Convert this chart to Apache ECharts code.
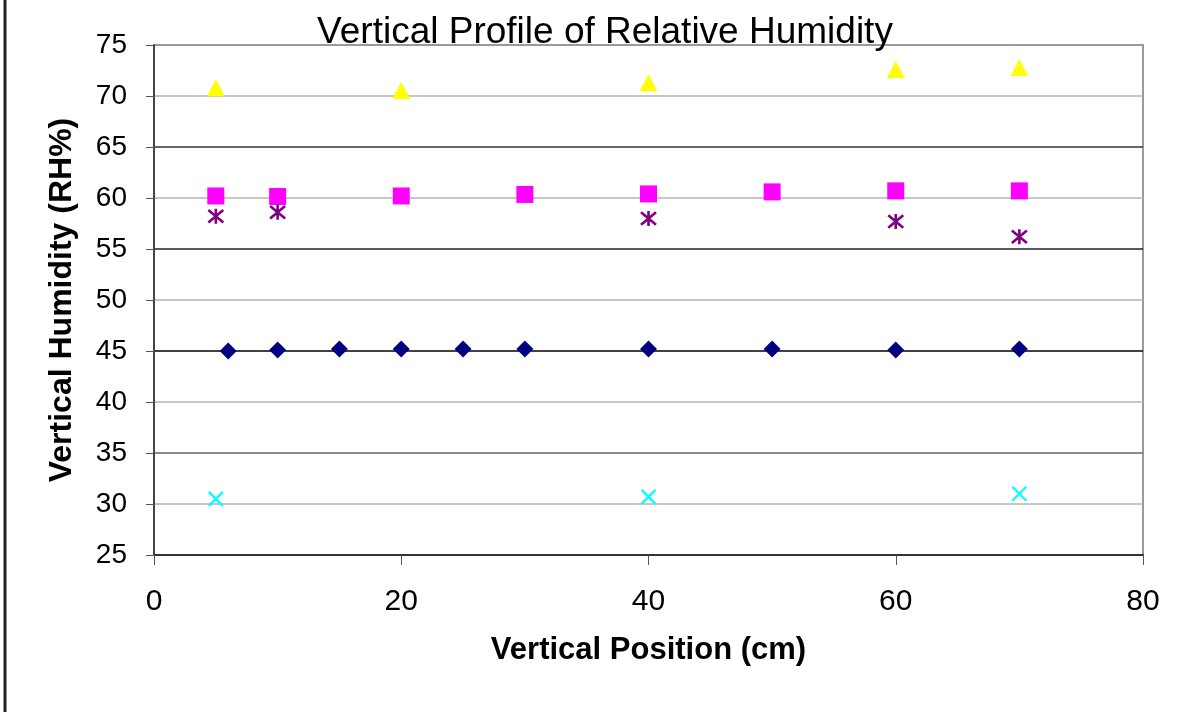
<!DOCTYPE html>
<html>
<head>
<meta charset="utf-8">
<script src="https://cdn.jsdelivr.net/npm/echarts@6/dist/echarts.min.js"></script>
<style>
  html, body { margin: 0; padding: 0; background: #fff; }
  #chart { width: 1192px; height: 712px; }
</style>
</head>
<body>
<div id="chart"></div>
<script>
// Relative humidity readings (RH%) at each vertical position (cm)
const navyX    = [6, 10, 15, 20, 25, 30, 40, 50, 60, 70];
const navyY    = [45.0, 45.1, 45.2, 45.2, 45.2, 45.2, 45.2, 45.2, 45.1, 45.2];
const pinkX    = [5, 10, 20, 30, 40, 50, 60, 70];
const pinkY    = [60.2, 60.15, 60.2, 60.35, 60.4, 60.6, 60.7, 60.7];
const yellowX  = [5, 20, 40, 60, 70];
const yellowY  = [70.8, 70.55, 71.3, 72.6, 72.8];
const cyanX    = [5, 40, 70];
const cyanY    = [30.5, 30.7, 31.0];
const purpleX  = [5, 10, 40, 60, 70];
const purpleY  = [58.2, 58.6, 58.0, 57.7, 56.2];

const xTicks = [0, 20, 40, 60, 80];
const yTicks = [25, 30, 35, 40, 45, 50, 55, 60, 65, 70, 75];

const pairs = (xs, ys) => xs.map((x, i) => [x, ys[i]]);

const FONT = '"Liberation Sans", Arial, sans-serif';
const CROSS = 'path://M0,0L10,10M10,0L0,10';
const STAR = 'path://M0,0L10,10M10,0L0,10M5,-1L5,11';

const chart = echarts.init(document.getElementById('chart'), null, { renderer: 'canvas' });

chart.setOption({
  backgroundColor: '#ffffff',
  animation: false,
  title: {
    text: 'Vertical Profile of Relative Humidity',
    left: 600, top: 9, textAlign: 'center',
    textStyle: { fontFamily: FONT, fontSize: 37, fontWeight: 'normal', color: '#000' }
  },
  grid: {
    left: 154, top: 45, right: 49, bottom: 157,
    show: true, borderColor: '#9a9a9a', borderWidth: 2, backgroundColor: 'transparent'
  },
  xAxis: {
    type: 'value', min: xTicks[0], max: xTicks[xTicks.length - 1], interval: 20,
    name: 'Vertical Position (cm)', nameLocation: 'middle', nameGap: 80,
    nameTextStyle: { fontFamily: FONT, fontSize: 31, fontWeight: 'bold', color: '#000' },
    axisLine: { show: true, onZero: false, lineStyle: { color: '#333', width: 2 } },
    axisTick: { show: true, inside: false, length: 10, lineStyle: { color: '#555', width: 1 } },
    axisLabel: { fontFamily: FONT, fontSize: 30, color: '#000', margin: 32 },
    splitLine: { show: false }
  },
  yAxis: {
    type: 'value', min: yTicks[0], max: yTicks[yTicks.length - 1], interval: 5,
    name: 'Vertical Humidity (RH%)', nameLocation: 'middle', nameGap: 76,
    nameTextStyle: { fontFamily: FONT, fontSize: 32, fontWeight: 'bold', color: '#000' },
    axisLine: { show: true, onZero: false, lineStyle: { color: '#444', width: 2 } },
    axisTick: { show: true, inside: false, length: 8, lineStyle: { color: '#555', width: 1 } },
    axisLabel: { fontFamily: FONT, fontSize: 28, color: '#000', margin: 27 },
    splitLine: {
      show: true,
      lineStyle: {
        width: 1.5,
        color: ['#333', '#b4b4b4', '#666', '#b4b4b4', '#000', '#b4b4b4',
                '#222', '#b4b4b4', '#333', '#b4b4b4', '#9a9a9a']
      }
    }
  },
  graphic: [{
    type: 'line', shape: { x1: 5, y1: 0, x2: 5, y2: 712 },
    style: { stroke: '#222', lineWidth: 3 }
  }],
  series: [
    {
      type: 'scatter', data: pairs(navyX, navyY),
      symbol: 'diamond', symbolSize: 17,
      itemStyle: { color: '#000080', opacity: 1 }
    },
    {
      type: 'scatter', data: pairs(pinkX, pinkY),
      symbol: 'rect', symbolSize: 17,
      itemStyle: { color: '#ff00ff', opacity: 1 }
    },
    {
      type: 'scatter', data: pairs(yellowX, yellowY),
      symbol: 'triangle', symbolSize: [18, 17],
      itemStyle: { color: '#ffff00', opacity: 1 }
    },
    {
      type: 'scatter', data: pairs(cyanX, cyanY),
      symbol: CROSS, symbolSize: 14,
      itemStyle: { color: 'rgba(0,0,0,0)', borderColor: '#00ffff', borderWidth: 2.2, opacity: 1 }
    },
    {
      type: 'scatter', data: pairs(purpleX, purpleY),
      symbol: STAR, symbolSize: 15,
      itemStyle: { color: 'rgba(0,0,0,0)', borderColor: '#800080', borderWidth: 2.6, opacity: 1 }
    }
  ]
});
</script>
</body>
</html>
